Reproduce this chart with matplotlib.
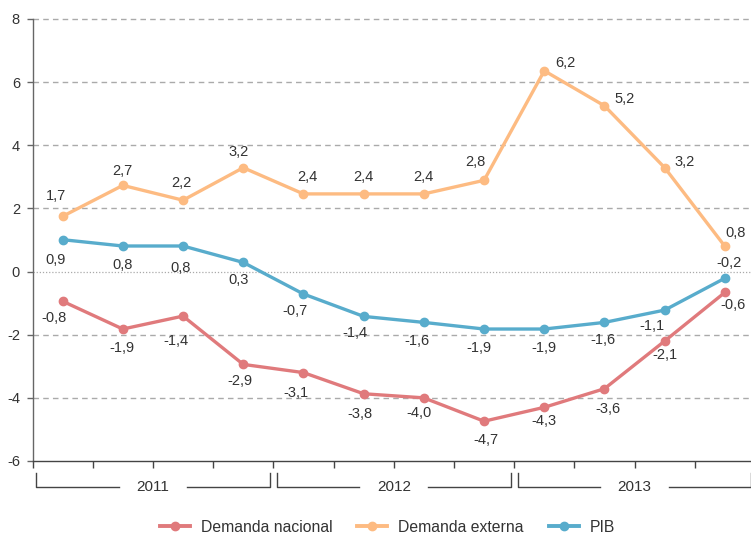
import matplotlib
matplotlib.use("Agg")
import matplotlib.pyplot as plt
from matplotlib.lines import Line2D
import matplotlib.transforms as mtransforms

plt.rcParams['font.family'] = ['Liberation Sans', 'DejaVu Sans']

years = ["2011", "2012", "2013"]
quarters_per_year = 4

# plotted values (as drawn) and printed labels
dn_values = [-0.94, -1.82, -1.41, -2.94, -3.2, -3.87, -4.0, -4.74, -4.3, -3.71, -2.2, -0.66]
dn_labels = ["-0,8", "-1,9", "-1,4", "-2,9", "-3,1", "-3,8", "-4,0", "-4,7", "-4,3", "-3,6", "-2,1", "-0,6"]
de_values = [1.75, 2.73, 2.26, 3.29, 2.46, 2.46, 2.46, 2.89, 6.36, 5.25, 3.29, 0.8]
de_labels = ["1,7", "2,7", "2,2", "3,2", "2,4", "2,4", "2,4", "2,8", "6,2", "5,2", "3,2", "0,8"]
pib_values = [1.01, 0.81, 0.81, 0.29, -0.71, -1.42, -1.61, -1.82, -1.82, -1.61, -1.22, -0.21]
pib_labels = ["0,9", "0,8", "0,8", "0,3", "-0,7", "-1,4", "-1,6", "-1,9", "-1,9", "-1,6", "-1,1", "-0,2"]

series_names = ["Demanda nacional", "Demanda externa", "PIB"]
colors = ["#E07A7C", "#FDBB82", "#58ACCC"]
text_color = "#333333"

# label offsets in pixels (dx, dy) with dy positive = up
dn_off = [(-9, -17), (-1, -19), (-7, -25), (-3, -17), (-7, -20), (-4, -20), (-5, -15), (2, -19),
          (0, -14), (3, -20), (0, -14), (8, -13)]
de_off = [(-7, 20), (0, 14), (-2, 17), (-5, 16), (4, 17), (0, 17), (0, 17), (-9, 18),
          (21, 8), (20, 7), (20, 6), (11, 13)]
pib_off = [(-7, -20), (0, -19), (-2, -22), (-5, -18), (-8, -17), (-9, -17), (-7, -19), (-5, -19),
           (0, -19), (-2, -18), (-13, -16), (4, 15)]

W, H = 751, 537
fig = plt.figure(figsize=(W / 100, H / 100), dpi=100)
ax_left, ax_right = 32.5 / W, 755 / W
ax_top, ax_bottom = 1 - 19 / H, 1 - 461 / H
ax = fig.add_axes([ax_left, ax_bottom, ax_right - ax_left, ax_top - ax_bottom])

n = len(years) * quarters_per_year
xs = [i + 0.5 for i in range(n)]

ax.set_xlim(0, n)
ax.set_ylim(-6, 8)

# grid
for yv in [-4, -2, 2, 4, 6, 8]:
    ax.axhline(yv, color="#AAAAAA", lw=1.0, ls=(0, (4, 3)), zorder=1, clip_on=False)
ax.axhline(0, color="#AAAAAA", lw=0.9, ls=(0, (1, 1.5)), zorder=1)

for vals, labs, offs, c in [(dn_values, dn_labels, dn_off, colors[0]),
                            (de_values, de_labels, de_off, colors[1]),
                            (pib_values, pib_labels, pib_off, colors[2])]:
    ax.plot(xs, vals, color=c, lw=2.4, marker="o", ms=6, zorder=3, clip_on=False)
    for x, v, t, (dx, dy) in zip(xs, vals, labs, offs):
        ax.annotate(t, (x, v), xytext=(dx, dy), textcoords="offset pixels",
                    ha="center", va="center", fontsize=10.5, color=text_color, zorder=4,
                    annotation_clip=False)

# spines / ticks
for s in ["top", "right"]:
    ax.spines[s].set_visible(False)
ax.spines["left"].set_color("#666666")
ax.spines["bottom"].set_color("#444444")
ax.spines["left"].set_linewidth(1.0)
ax.spines["bottom"].set_linewidth(1.0)
ax.set_yticks(range(-6, 9, 2))
ax.set_yticklabels([str(v) for v in range(-6, 9, 2)])
ax.set_xticks(range(0, n + 1))
ax.set_xticklabels([])
ax.tick_params(axis="y", length=4, width=1, colors="#666666", labelcolor=text_color, labelsize=10.5, pad=5)
ax.tick_params(axis="x", length=5, width=1, colors="#444444")

# year brackets
trans = mtransforms.blended_transform_factory(ax.transData, ax.transAxes)
ax_h = 461 - 19
y_h = -(487 - 461) / ax_h
y_v = -(473 - 461) / ax_h
y_t = -(487 - 461) / ax_h
inset = 0.06
gap = 0.57
for i, yr in enumerate(years):
    x0 = i * quarters_per_year + inset
    x1 = (i + 1) * quarters_per_year - inset
    xm = (i + 0.5) * quarters_per_year
    kw = dict(color="#444444", lw=1.0, transform=trans, clip_on=False)
    ax.add_line(Line2D([x0, x0, xm - gap], [y_v, y_h, y_h], **kw))
    ax.add_line(Line2D([xm + gap, x1, x1], [y_h, y_h, y_v], **kw))
    ax.text(xm, y_t, yr, transform=trans, ha="center", va="center", fontsize=11, color=text_color)

handles = [Line2D([], [], color=c, lw=2.8, marker="o", ms=6) for c in colors]
fig.legend(handles, series_names, loc="center", bbox_to_anchor=(0.516, 1 - 527 / H), ncol=3,
           frameon=False, fontsize=11.3, handlelength=1.9, columnspacing=1.6, handletextpad=0.7,
           labelcolor=text_color)

fig.savefig("out.png", dpi=100)
